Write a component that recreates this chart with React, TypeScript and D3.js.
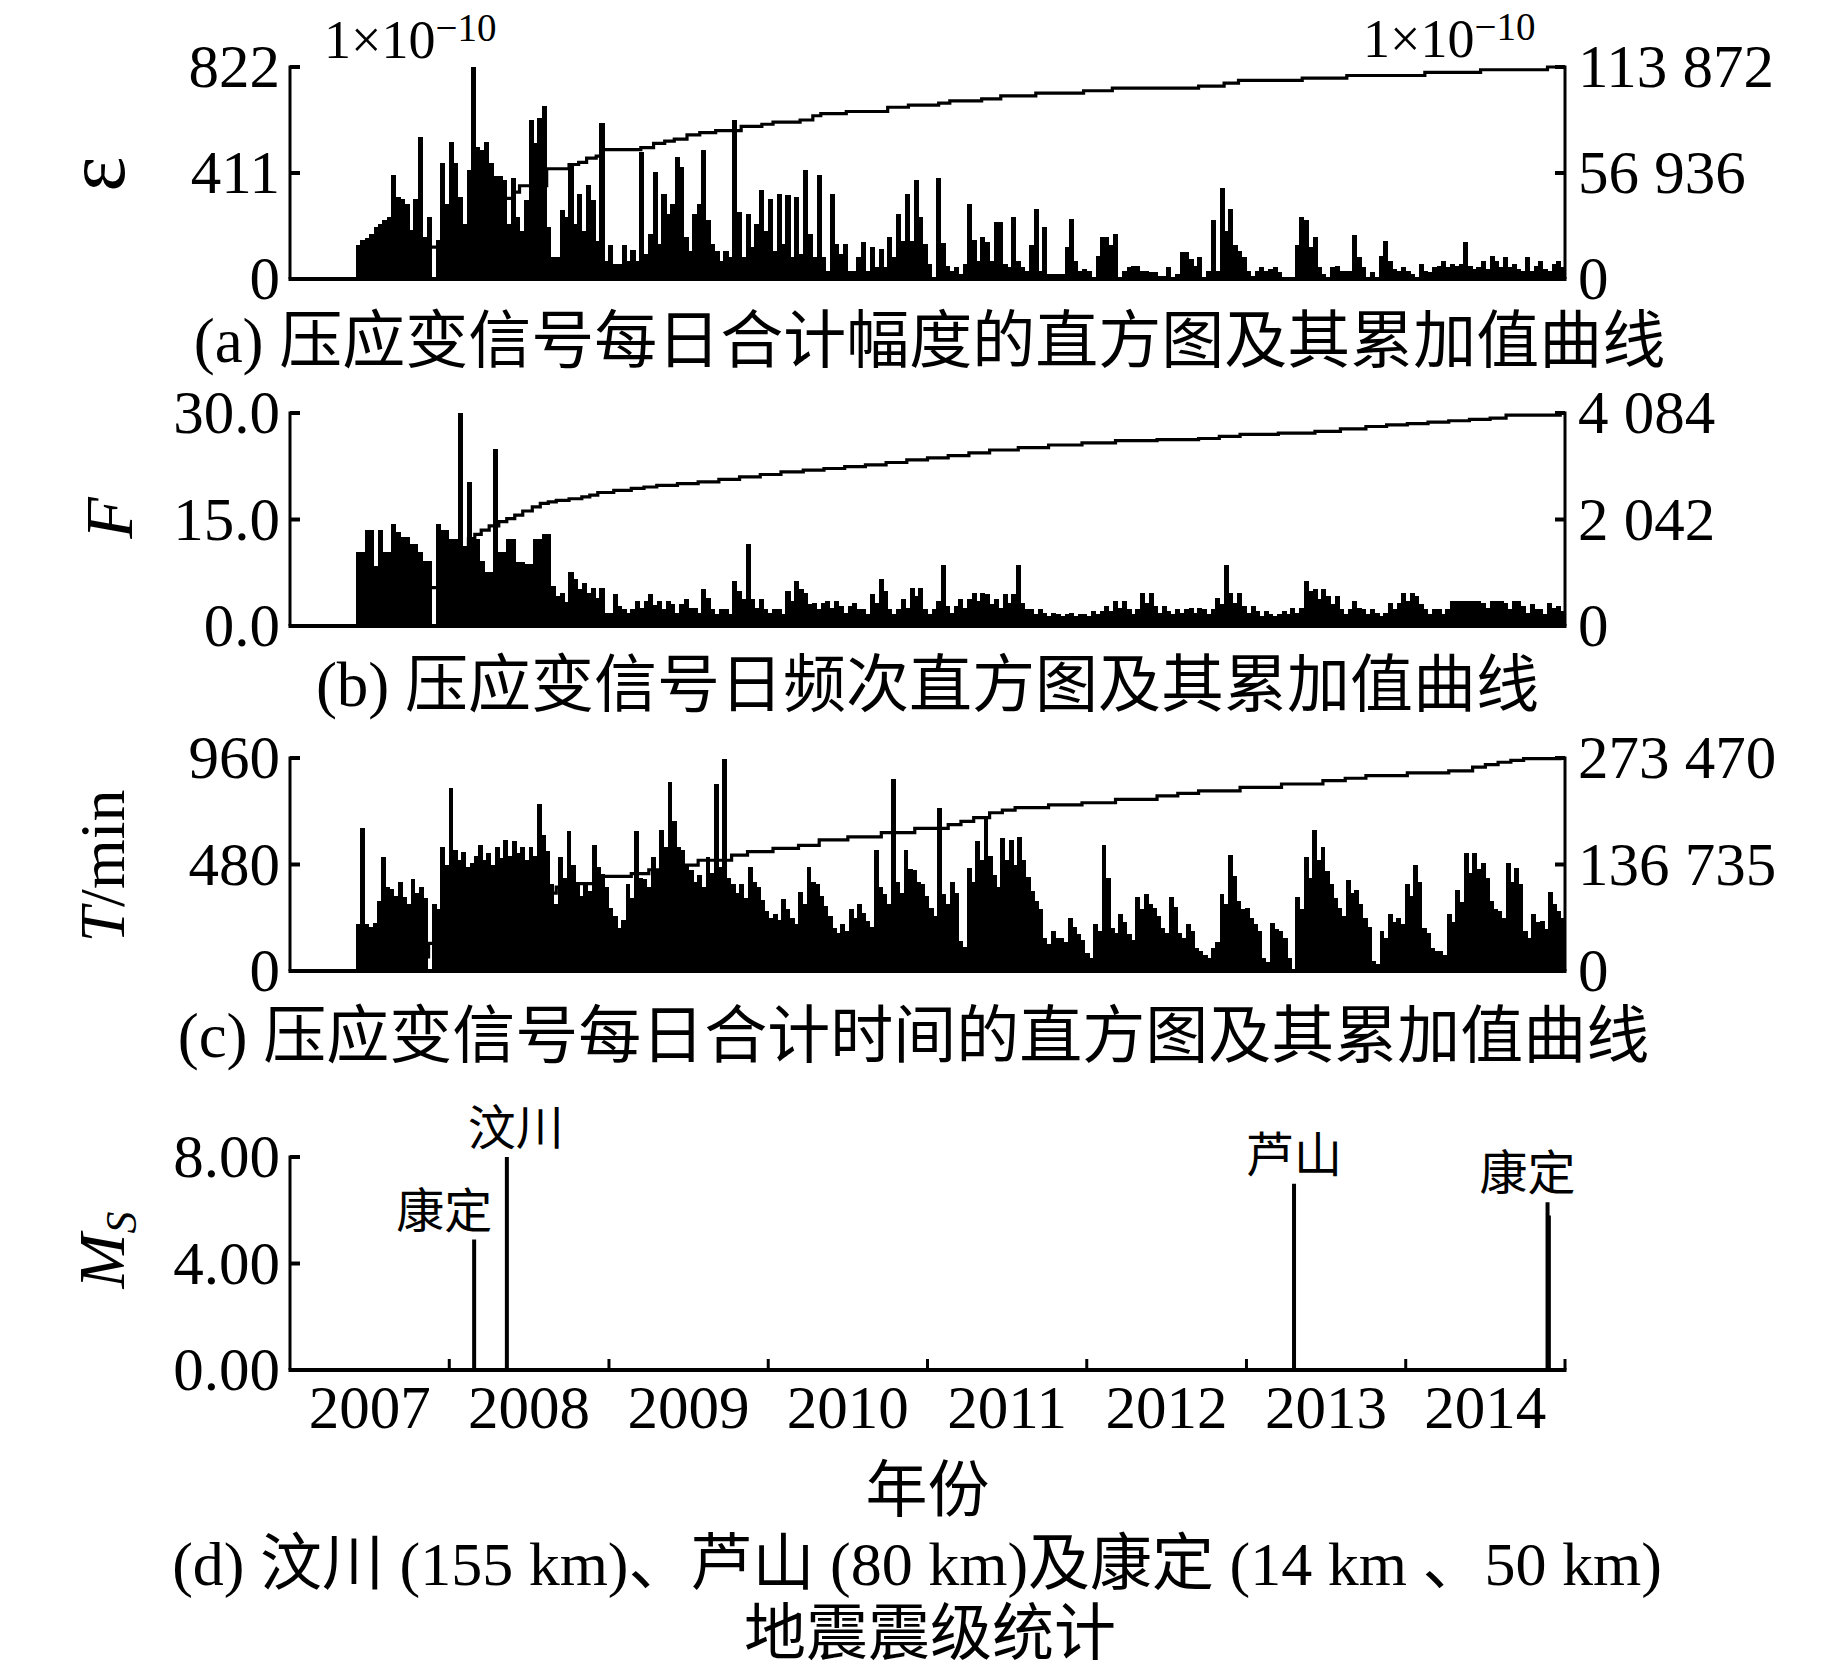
import { useEffect } from 'react';
import * as d3 from 'd3';

const W = 1843;
const H = 1677;
const FONT = "'Liberation Serif', 'Times New Roman', 'Noto Sans CJK SC', serif";
const PL = 290;
const PR = 1565;

const axisStart = new Date(2007, 0, 1);
const axisEnd = new Date(2015, 0, 1);
const dataStart = new Date(2007, 5, 1);
const dataEnd = new Date(2015, 0, 1);

const years = [2007, 2008, 2009, 2010, 2011, 2012, 2013, 2014];

// (a) daily summed amplitude, 10-day bins (x1e-10)
const epsDaily = [
  130, 150, 160, 175, 200, 215, 230, 240, 402, 318,
  310, 292, 190, 311, 552, 162, 240, 0, 150, 451,
  292, 532, 451, 318, 214, 422, 822, 513, 500, 532,
  448, 400, 400, 383, 214, 390, 240, 188, 305, 617,
  526, 623, 669, 201, 84, 84, 266, 240, 441, 214,
  331, 188, 363, 305, 149, 604, 71, 130, 58, 58,
  130, 71, 113, 71, 493, 97, 175, 415, 136, 331,
  253, 292, 474, 435, 162, 110, 253, 292, 500, 227,
  136, 110, 71, 110, 84, 617, 260, 84, 253, 123,
  214, 344, 188, 311, 110, 331, 136, 325, 84, 318,
  97, 422, 175, 84, 402, 84, 32, 331, 136, 97,
  136, 32, 32, 84, 143, 32, 123, 45, 117, 45,
  162, 84, 253, 149, 331, 149, 383, 240, 136, 58,
  6, 390, 140, 52, 32, 45, 19, 58, 292, 150,
  71, 162, 143, 71, 221, 221, 58, 45, 240, 71,
  45, 32, 130, 273, 32, 201, 19, 19, 19, 19,
  123, 234, 71, 32, 39, 32, 6, 91, 162, 162,
  130, 175, 6, 32, 45, 52, 52, 32, 32, 26,
  26, 13, 13, 45, 6, 19, 104, 104, 78, 52,
  84, 6, 32, 227, 32, 351, 188, 273, 130, 110,
  84, 32, 13, 32, 45, 32, 39, 45, 26, 6,
  6, 6, 130, 240, 227, 123, 162, 45, 19, 6,
  45, 52, 32, 32, 32, 169, 84, 45, 6, 26,
  6, 91, 149, 71, 39, 32, 45, 32, 19, 6,
  58, 32, 26, 45, 52, 71, 45, 58, 52, 58,
  143, 52, 39, 45, 71, 39, 91, 71, 45, 84,
  45, 58, 39, 32, 84, 32, 52, 71, 39, 32,
  58, 71, 45,
];

// cumulative amplitude [decimal year, value]
const epsCum: [number, number][] = [
  [2007.42, 0], [2007.6, 7970], [2007.8, 17080], [2008.0, 27330], [2008.15, 36440],
  [2008.27, 43270], [2008.4, 46690], [2008.44, 50100], [2008.61, 59210], [2008.75, 61490],
  [2008.81, 62630], [2008.86, 64910], [2008.92, 66050], [2008.96, 69460], [2009.2, 70600],
  [2009.28, 72880], [2009.35, 74020], [2009.41, 75160], [2009.49, 77430], [2009.57, 78570],
  [2009.67, 79710], [2009.83, 81990], [2009.96, 83130], [2010.03, 84270], [2010.2, 85400],
  [2010.28, 87680], [2010.33, 88820], [2010.49, 89960], [2010.75, 92240], [2010.88, 93380],
  [2011.07, 94510], [2011.14, 95650], [2011.34, 96790], [2011.46, 98390], [2011.68, 99870],
  [2011.98, 101120], [2012.16, 102490], [2012.7, 103620], [2012.86, 105220], [2012.95, 106700],
  [2013.35, 107950], [2013.63, 109320], [2014.12, 111030], [2014.47, 112390], [2014.89, 113872],
  [2015.0, 113872],
];

// (b) daily frequency, 10-day bins
const freqDaily = [
  10.4, 10.4, 13.5, 13.5, 8.5, 13.5, 10.4, 10.4, 14.4, 13.2,
  12.5, 12.5, 11.6, 11.6, 10.4, 9.2, 9.2, 0, 14.4, 13.5,
  13.5, 12.3, 12.3, 30, 11.3, 20.3, 12.3, 12.3, 9.2, 7.6,
  7.6, 25, 10.4, 10.4, 12.3, 12.3, 9, 9, 8.8, 8.8,
  12.3, 12.3, 13, 13, 5.7, 4.2, 4.7, 3.4, 7.6, 6.6,
  5.2, 6.1, 4.6, 5.4, 3.9, 5.4, 1.9, 1.9, 4.5, 2.8,
  2.4, 1.9, 2.4, 3.5, 2.6, 3.5, 4.5, 3.0, 3.5, 2.4,
  3.5, 3.1, 1.9, 3.1, 3.8, 2.6, 2.6, 1.9, 5.2, 4.0,
  2.4, 1.7, 2.4, 2.4, 1.7, 6.4, 5.0, 3.8, 11.6, 3.8,
  2.6, 3.8, 2.4, 1.9, 2.4, 2.4, 1.7, 5, 3.5, 6.4,
  5.2, 4.7, 3.1, 3.3, 2.4, 3.3, 3.5, 2.6, 3.5, 2.8,
  1.9, 2.8, 3.3, 2.4, 2.4, 1.7, 4.5, 3.3, 6.6, 5.0,
  2.4, 1.7, 2.4, 3.8, 2.6, 5.4, 4.2, 5.4, 2.4, 1.7,
  2.4, 3.5, 8.6, 2.8, 1.9, 2.8, 3.8, 2.6, 3.8, 4.7,
  3.5, 4.7, 4.5, 3.1, 3.8, 2.6, 4.5, 3.3, 4.5, 8.6,
  3.3, 2.4, 2.4, 1.7, 2.4, 1.9, 1.4, 1.9, 1.7, 1.4,
  1.7, 1.9, 1.4, 1.7, 1.7, 1.4, 2.1, 1.7, 2.1, 2.8,
  2.1, 3.5, 2.6, 3.5, 2.4, 1.7, 2.4, 4.7, 3.3, 4.7,
  2.8, 1.9, 2.8, 2.1, 1.7, 2.4, 1.9, 2.4, 2.6, 1.9,
  2.6, 2.4, 1.7, 2.4, 4, 3.1, 8.6, 4.7, 3.3, 4.7,
  2.8, 1.9, 2.8, 2.1, 1.4, 2.1, 1.7, 1.4, 1.7, 2.1,
  1.7, 2.6, 1.9, 2.6, 6.4, 5.0, 5.2, 3.8, 5.2, 4.2,
  3.1, 4.2, 2.4, 1.7, 2.4, 3.5, 2.6, 2.4, 1.7, 2.4,
  1.9, 1.4, 1.9, 3.3, 2.4, 3.3, 4.7, 3.5, 4.7, 4.2,
  3.1, 2.4, 1.7, 2.4, 2.4, 1.7, 2.4, 3.5, 3.5, 3.5,
  3.5, 3.5, 3.5, 3.5, 3.3, 2.6, 3.5, 3.5, 3.5, 3.3,
  2.4, 3.5, 3.5, 2.8, 1.9, 3.1, 2.4, 2.4, 1.7, 3.3,
  2.6, 2.8, 2.1,
];

const freqCum: [number, number][] = [
  [2007.42, 0], [2007.63, 410], [2007.78, 735], [2007.94, 1145], [2008.04, 1430],
  [2008.12, 1675], [2008.16, 1755], [2008.2, 1840], [2008.25, 1920], [2008.31, 2000],
  [2008.36, 2060], [2008.41, 2125], [2008.46, 2205], [2008.52, 2285], [2008.57, 2350],
  [2008.62, 2380], [2008.67, 2410], [2008.75, 2440], [2008.83, 2475], [2008.88, 2510],
  [2008.93, 2560], [2009.03, 2600], [2009.14, 2640], [2009.22, 2665], [2009.3, 2695],
  [2009.43, 2730], [2009.56, 2765], [2009.69, 2810], [2009.82, 2860], [2009.95, 2905],
  [2010.08, 2955], [2010.22, 2990], [2010.35, 3020], [2010.48, 3055], [2010.61, 3090],
  [2010.74, 3135], [2010.87, 3185], [2011.0, 3225], [2011.13, 3265], [2011.26, 3320],
  [2011.39, 3375], [2011.57, 3420], [2011.76, 3470], [2011.97, 3510], [2012.18, 3555],
  [2012.44, 3575], [2012.7, 3595], [2012.83, 3635], [2012.96, 3675], [2013.2, 3700],
  [2013.43, 3730], [2013.59, 3780], [2013.75, 3825], [2013.88, 3855], [2014.01, 3880],
  [2014.14, 3910], [2014.27, 3935], [2014.4, 3960], [2014.53, 3985], [2014.63, 4045],
  [2014.97, 4084], [2015.0, 4084],
];

// (c) daily summed duration (min), ~5-day bins
const durDaily = [
  210, 645, 210, 200, 215, 317, 515, 380, 370, 340, 400, 332, 300, 416, 350, 378, 330, 0,
  302, 280, 560, 480, 827, 545, 500, 538, 470, 485, 520, 568, 500, 530, 480, 560, 510,
  591, 520, 584, 530, 560, 500, 560, 520, 751,
  614, 540, 393, 300, 515, 420, 629, 480, 393, 340, 393, 360, 568, 470, 439, 380, 286, 250,
  195, 230, 393, 330, 629, 420, 416, 380, 515, 450, 637, 560, 850,
  675, 560, 545, 480, 454, 400, 431, 380, 515, 440, 843, 469, 957, 420, 393, 350, 393, 330,
  469, 400, 378, 320, 271, 240, 256, 230, 325, 280, 241, 210, 355, 300, 469, 400, 393, 340,
  294, 250, 195, 170, 210, 180, 279, 240, 302, 260, 225, 200, 545, 380, 347, 300, 866,
  400, 350, 545, 460, 454, 400, 393, 340, 286, 250, 736, 347, 300, 400, 350, 134, 110,
  462, 400, 584, 500, 683, 520, 431, 380, 599, 500, 591, 480, 606, 500, 424, 360, 317, 280,
  149, 120, 180, 150, 149, 130, 241, 200, 165, 140, 81, 60, 210, 180, 568, 420, 195, 170,
  256, 220, 165, 140, 332, 280, 347, 300, 286, 250, 195, 170, 332, 290, 172, 150, 210, 180,
  104, 90, 73, 60, 104, 130, 347, 300, 523, 430, 317, 280, 286, 240, 210, 180, 58, 40,
  218, 190, 180, 150, 58, 0, 332, 280, 515, 420, 637, 500, 560, 450, 393, 330, 286, 250,
  408, 350, 363, 300, 241, 200, 43, 30, 180, 150, 256, 220, 241, 210, 393, 340, 477, 400,
  195, 170, 104, 90, 88, 70, 256, 220, 363, 310, 530, 440, 530, 460, 485, 420, 317, 280,
  271, 240, 485, 400, 462, 390, 180, 150, 256, 220, 225, 190, 355, 300, 271, 240,
];

const durCum: [number, number][] = [
  [2007.42, 0], [2007.65, 18000], [2007.87, 35550], [2008.05, 55000], [2008.2, 73840],
  [2008.33, 84000], [2008.45, 92980], [2008.56, 100000], [2008.67, 107750], [2008.78, 112120],
  [2008.96, 121420], [2009.14, 124980], [2009.25, 130000], [2009.35, 135920], [2009.56, 142200],
  [2009.77, 148770], [2009.87, 153140], [2010.03, 157520], [2010.19, 161350], [2010.32, 168460],
  [2010.5, 172290], [2010.71, 177760], [2010.92, 183230], [2011.13, 187870], [2011.21, 192000],
  [2011.29, 196900], [2011.39, 203190], [2011.47, 206500], [2011.55, 209750], [2011.76, 213310],
  [2011.97, 216040], [2012.18, 220420], [2012.44, 224790], [2012.57, 228000], [2012.7, 231360],
  [2012.96, 235730], [2013.22, 240110], [2013.48, 244480], [2013.62, 247500], [2013.75, 250770],
  [2014.01, 254330], [2014.27, 257060], [2014.42, 261710], [2014.5, 265000], [2014.58, 268000],
  [2014.66, 270500], [2014.74, 272650], [2014.97, 273470], [2015.0, 273470],
];

// (d) earthquakes
const quakeNames = ['康定', '汶川', '芦山', '康定', ''];
const quakeDates = ['2008-02-27', '2008-05-12', '2013-04-20', '2014-11-22', '2014-11-25'];
const quakeMs = [4.9, 8.0, 7.0, 6.3, 5.8];
const quakeLabelDx = [-30, 9, 0, -20, 0];

const epsTicks = [0, 411, 822];
const epsRightTicks = [0, 56936, 113872];
const freqTicks = [0, 15, 30];
const freqRightTicks = [0, 2042, 4084];
const durTicks = [0, 480, 960];
const durRightTicks = [0, 136735, 273470];
const msTicks = [0, 4, 8];

const x = d3.scaleTime().domain([axisStart, axisEnd]).range([PL, PR]);

function yearToDate(t: number) {
  const y = Math.floor(t);
  const a = new Date(y, 0, 1).getTime();
  const b = new Date(y + 1, 0, 1).getTime();
  return new Date(a + (t - y) * (b - a));
}

const spaced = (v: number) => d3.format(',')(v).replace(/,/g, ' ');

const TICK_FS = 61;

type PanelProps = {
  top: number;
  bottom: number;
  values: number[];
  leftTicks: number[];
  leftFmt: (v: number) => string;
  cum: [number, number][];
  rightTicks: number[];
};

function Panel({ top, bottom, values, leftTicks, leftFmt, cum, rightTicks }: PanelProps) {
  const y = d3.scaleLinear().domain([0, leftTicks[leftTicks.length - 1]]).range([bottom, top]);
  const yR = d3.scaleLinear().domain([0, rightTicks[rightTicks.length - 1]]).range([bottom, top]);
  const idx = d3.scaleLinear().domain([0, values.length]).range([x(dataStart), x(dataEnd)]);
  const line = d3
    .line<[number, number]>()
    .x((d) => x(yearToDate(d[0])))
    .y((d) => yR(d[1]))
    .curve(d3.curveStepAfter);

  return (
    <g>
      <g shapeRendering="crispEdges">
        {values.map((v, i) => (
          <rect
            key={i}
            x={idx(i)}
            y={y(v)}
            width={idx(i + 1) - idx(i) + 0.6}
            height={bottom - y(v)}
            fill="#000"
          />
        ))}
      </g>
      <path d={line(cum) || ''} fill="none" stroke="#000" strokeWidth={3.2} />
      <line x1={PL} x2={PL} y1={top - 1.5} y2={bottom} stroke="#000" strokeWidth={3} />
      <line x1={PR} x2={PR} y1={top - 1.5} y2={bottom} stroke="#000" strokeWidth={3} />
      <line x1={PL - 1.5} x2={PR + 1.5} y1={bottom} y2={bottom} stroke="#000" strokeWidth={4} />
      {leftTicks.map((t) => (
        <g key={'l' + t}>
          <line x1={PL} x2={PL + 10} y1={y(t)} y2={y(t)} stroke="#000" strokeWidth={4} />
          <text x={PL - 10} y={y(t) + TICK_FS * 0.33} textAnchor="end" fontSize={TICK_FS}>
            {leftFmt(t)}
          </text>
        </g>
      ))}
      {rightTicks.map((t) => (
        <g key={'r' + t}>
          <line x1={PR - 10} x2={PR} y1={yR(t)} y2={yR(t)} stroke="#000" strokeWidth={4} />
          <text x={PR + 13} y={yR(t) + TICK_FS * 0.33} textAnchor="start" fontSize={TICK_FS}>
            {spaced(t)}
          </text>
        </g>
      ))}
    </g>
  );
}

function QuakePanel({ top, bottom }: { top: number; bottom: number }) {
  const y = d3.scaleLinear().domain([0, msTicks[msTicks.length - 1]]).range([bottom, top]);
  const fmt = d3.format('.2f');
  const bounds = years.slice(1).map((yr) => new Date(yr, 0, 1)).concat([axisEnd]);
  return (
    <g>
      {quakeDates.map((d, i) => {
        const xd = x(new Date(d));
        return (
          <g key={i}>
            <line x1={xd} x2={xd} y1={bottom} y2={y(quakeMs[i])} stroke="#000" strokeWidth={4} />
            {quakeNames[i] && (
              <text x={xd + quakeLabelDx[i]} y={y(quakeMs[i]) - 12} textAnchor="middle" fontSize={48}>
                {quakeNames[i]}
              </text>
            )}
          </g>
        );
      })}
      <line x1={PL} x2={PL} y1={top - 1.5} y2={bottom} stroke="#000" strokeWidth={3} />
      <line x1={PL - 1.5} x2={PR + 1.5} y1={bottom} y2={bottom} stroke="#000" strokeWidth={4} />
      {msTicks.map((t) => (
        <g key={t}>
          <line x1={PL} x2={PL + 10} y1={y(t)} y2={y(t)} stroke="#000" strokeWidth={4} />
          <text x={PL - 10} y={y(t) + TICK_FS * 0.33} textAnchor="end" fontSize={TICK_FS}>
            {fmt(t)}
          </text>
        </g>
      ))}
      {bounds.map((b, i) => (
        <line key={i} x1={x(b)} x2={x(b)} y1={bottom} y2={bottom - 11} stroke="#000" strokeWidth={3} />
      ))}
      {years.map((yr) => {
        const cx = (x(new Date(yr, 0, 1)) + x(new Date(yr + 1, 0, 1))) / 2;
        return (
          <text key={yr} x={cx} y={1428} textAnchor="middle" fontSize={61}>
            {yr}
          </text>
        );
      })}
    </g>
  );
}

export default function App() {
  useEffect(() => {
    document.body.style.margin = '0';
  }, []);

  const cx = (PL + PR) / 2;

  return (
    <svg width={W} height={H} viewBox={`0 0 ${W} ${H}`} style={{ display: 'block', background: '#fff' }} fontFamily={FONT}>
      <rect x={0} y={0} width={W} height={H} fill="#fff" />

      {/* (a) */}
      <Panel top={67} bottom={279} values={epsDaily} leftTicks={epsTicks} leftFmt={d3.format('d')} cum={epsCum} rightTicks={epsRightTicks} />
      <text x={324} y={58} fontSize={54}>
        1×10<tspan fontSize={39} dy={-17}>−10</tspan>
      </text>
      <text x={1363} y={57} fontSize={54}>
        1×10<tspan fontSize={39} dy={-17}>−10</tspan>
      </text>
      <text transform={`translate(124, 174) rotate(-90)`} textAnchor="middle" fontSize={84}>ε</text>
      <text x={cx + 2} y={362} textAnchor="middle" fontSize={63}>(a) 压应变信号每日合计幅度的直方图及其累加值曲线</text>

      {/* (b) */}
      <Panel top={413} bottom={626} values={freqDaily} leftTicks={freqTicks} leftFmt={d3.format('.1f')} cum={freqCum} rightTicks={freqRightTicks} />
      <text transform={`translate(132, 518) rotate(-90)`} textAnchor="middle" fontSize={68} fontStyle="italic">F</text>
      <text x={cx} y={706} textAnchor="middle" fontSize={63}>(b) 压应变信号日频次直方图及其累加值曲线</text>

      {/* (c) */}
      <Panel top={758} bottom={971} values={durDaily} leftTicks={durTicks} leftFmt={d3.format('d')} cum={durCum} rightTicks={durRightTicks} />
      <text transform={`translate(124, 866) rotate(-90)`} textAnchor="middle" fontSize={64}>
        <tspan fontStyle="italic">T</tspan>/min
      </text>
      <text x={cx - 14} y={1057} textAnchor="middle" fontSize={63}>(c) 压应变信号每日合计时间的直方图及其累加值曲线</text>

      {/* (d) */}
      <QuakePanel top={1157} bottom={1370} />
      <text transform={`translate(124, 1250) rotate(-90)`} textAnchor="middle" fontSize={66}>
        <tspan fontStyle="italic">M</tspan>
        <tspan fontStyle="italic" fontSize={44} dy={12}>S</tspan>
      </text>
      <text x={cx} y={1512} textAnchor="middle" fontSize={62}>年份</text>
      <text x={917} y={1585} textAnchor="middle" fontSize={62}>(d) 汶川 (155 km)、芦山 (80 km)及康定 (14 km 、50 km)</text>
      <text x={930} y={1655} textAnchor="middle" fontSize={62}>地震震级统计</text>
    </svg>
  );
}
